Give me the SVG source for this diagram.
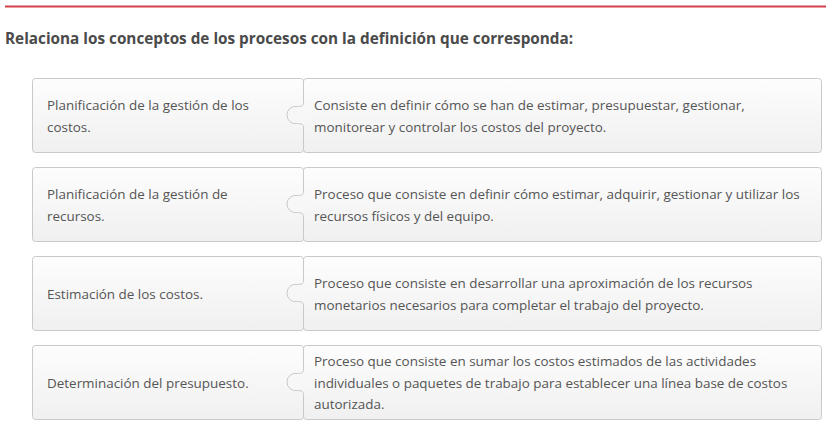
<svg xmlns="http://www.w3.org/2000/svg" width="828" height="425" viewBox="0 0 828 425">
<style>
.t{font-family:"Open Sans","Liberation Sans",sans-serif;font-size:13.45px;fill:#555555}
.title{font-family:"Open Sans","Liberation Sans",sans-serif;font-size:15.3px;font-weight:bold;fill:#4a4a4a}
.box{fill:url(#g);stroke:#c9c9c9;stroke-width:1}
.tabf{fill:#f7f7f7;stroke:none}
.tabs{fill:none;stroke:#c9c9c9;stroke-width:1}
</style>
<defs>
<linearGradient id="g" x1="0" y1="0" x2="0" y2="1">
<stop offset="0" stop-color="#fdfdfd"/>
<stop offset="1" stop-color="#f0f0f0"/>
</linearGradient>
<path id="tab" d="M303.5,103.5 C303.5,105.5 301,106.5 297.5,106.5 A8.7,8.7 0 1 0 297.5,123.5 C301,123.5 303.5,124.5 303.5,126.5"/>
</defs>
<rect width="828" height="425" fill="#ffffff"/>
<rect x="5" y="5.5" width="821" height="2" fill="#d5404a"/>
<text class="title" x="5" y="44">Relaciona los conceptos de los procesos con la definición que corresponda:</text>

<g id="row1" transform="translate(0,0)">
<rect class="box" x="32.5" y="78.5" width="271" height="74" rx="3"/>
<rect class="box" x="303.5" y="78.5" width="518" height="74" rx="3"/>
<path class="tabf" d="M303,103.5 C303,105.5 301,106.5 297.5,106.5 A8.7,8.7 0 1 0 297.5,123.5 C301,123.5 303,124.5 303,126.5 L305,126.5 L305,103.5 Z"/>
<use href="#tab" class="tabs"/>
<text class="t" x="47" y="110">Planificación de la gestión de los</text>
<text class="t" x="47" y="132">costos.</text>
<text class="t" x="314" y="110">Consiste en definir cómo se han de estimar, presupuestar, gestionar,</text>
<text class="t" x="314" y="132">monitorear y controlar los costos del proyecto.</text>
</g>

<g id="row2" transform="translate(0,89)">
<rect class="box" x="32.5" y="78.5" width="271" height="74" rx="3"/>
<rect class="box" x="303.5" y="78.5" width="518" height="74" rx="3"/>
<path class="tabf" d="M303,103.5 C303,105.5 301,106.5 297.5,106.5 A8.7,8.7 0 1 0 297.5,123.5 C301,123.5 303,124.5 303,126.5 L305,126.5 L305,103.5 Z"/>
<use href="#tab" class="tabs"/>
<text class="t" x="47" y="110">Planificación de la gestión de</text>
<text class="t" x="47" y="132">recursos.</text>
<text class="t" x="314" y="110">Proceso que consiste en definir cómo estimar, adquirir, gestionar y utilizar los</text>
<text class="t" x="314" y="132">recursos físicos y del equipo.</text>
</g>

<g id="row3" transform="translate(0,178)">
<rect class="box" x="32.5" y="78.5" width="271" height="74" rx="3"/>
<rect class="box" x="303.5" y="78.5" width="518" height="74" rx="3"/>
<path class="tabf" d="M303,103.5 C303,105.5 301,106.5 297.5,106.5 A8.7,8.7 0 1 0 297.5,123.5 C301,123.5 303,124.5 303,126.5 L305,126.5 L305,103.5 Z"/>
<use href="#tab" class="tabs"/>
<text class="t" x="47" y="120.5">Estimación de los costos.</text>
<text class="t" x="314" y="110">Proceso que consiste en desarrollar una aproximación de los recursos</text>
<text class="t" x="314" y="132">monetarios necesarios para completar el trabajo del proyecto.</text>
</g>

<g id="row4" transform="translate(0,267)">
<rect class="box" x="32.5" y="78.5" width="271" height="74" rx="3"/>
<rect class="box" x="303.5" y="78.5" width="518" height="74" rx="3"/>
<path class="tabf" d="M303,103.5 C303,105.5 301,106.5 297.5,106.5 A8.7,8.7 0 1 0 297.5,123.5 C301,123.5 303,124.5 303,126.5 L305,126.5 L305,103.5 Z"/>
<use href="#tab" class="tabs"/>
<text class="t" x="47" y="120.5">Determinación del presupuesto.</text>
<text class="t" x="314" y="99">Proceso que consiste en sumar los costos estimados de las actividades</text>
<text class="t" x="314" y="120.5">individuales o paquetes de trabajo para establecer una línea base de costos</text>
<text class="t" x="314" y="142">autorizada.</text>
</g>
</svg>
